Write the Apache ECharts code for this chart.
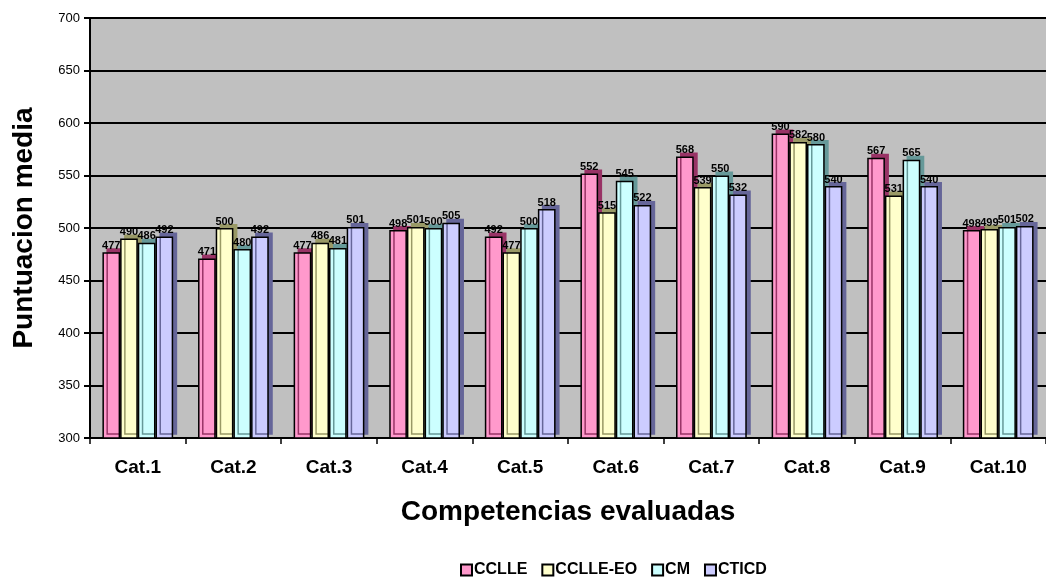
<!DOCTYPE html>
<html>
<head>
<meta charset="utf-8">
<title>Puntuacion media</title>
<script src="https://cdn.jsdelivr.net/npm/echarts@6/dist/echarts.min.js"></script>
<style>
  html, body { margin: 0; padding: 0; background: #fff; }
  #app { width: 1046px; height: 577px; }
</style>
</head>
<body>
<div id="app"></div>
<script>
// datos
var categories = ['Cat.1', 'Cat.2', 'Cat.3', 'Cat.4', 'Cat.5', 'Cat.6', 'Cat.7', 'Cat.8', 'Cat.9', 'Cat.10'];
var seriesNames = ['CCLLE', 'CCLLE-EO', 'CM', 'CTICD'];
var cclle   = [477, 471, 477, 498, 492, 552, 568, 590, 567, 498];
var cclleEo = [490, 500, 486, 501, 477, 515, 539, 582, 531, 499];
var cm      = [486, 480, 481, 500, 500, 545, 550, 580, 565, 501];
var cticd   = [492, 492, 501, 505, 518, 522, 532, 540, 540, 502];
var yTicks = { min: 300, max: 700, interval: 50 };

var colors = ['#ff99cc', '#ffffcc', '#ccffff', '#ccccff'];
var sideColors = ['#993366', '#999966', '#669999', '#666699'];
var allValues = [cclle, cclleEo, cm, cticd];
var font = 'Arial, "Liberation Sans", sans-serif';

var myEchart = echarts.init(document.getElementById('app'));

var series = allValues.map(function (vals, i) {
    return {
        name: seriesNames[i],
        type: 'bar',
        data: vals,
        barGap: '0%',
        barCategoryGap: '26%',
        itemStyle: {
            color: colors[i],
            borderColor: '#000',
            borderWidth: 1.5,
            shadowColor: sideColors[i],
            shadowOffsetX: 4,
            shadowOffsetY: -4,
            shadowBlur: 0
        },
        label: {
            show: true,
            position: 'top',
            distance: 1,
            color: '#000',
            fontFamily: font,
            fontWeight: 'bold',
            fontSize: 11
        }
    };
});

myEchart.setOption({
    animation: false,
    backgroundColor: '#fff',
    color: colors,
    legend: {
        data: seriesNames,
        top: 562,
        left: 460,
        padding: 0,
        icon: 'rect',
        itemWidth: 11,
        itemHeight: 11,
        itemGap: 14,
        itemStyle: { borderColor: '#000', borderWidth: 2 },
        textStyle: {
            fontFamily: font,
            fontWeight: 'bold',
            fontSize: 16,
            color: '#000',
            padding: [0, 0, 0, -3]
        }
    },
    grid: {
        left: 90,
        right: -4,
        top: 18,
        bottom: 139,
        show: true,
        backgroundColor: '#c0c0c0',
        borderWidth: 0
    },
    xAxis: {
        type: 'category',
        data: categories,
        name: 'Competencias evaluadas',
        nameLocation: 'middle',
        nameGap: 60,
        nameTextStyle: {
            fontFamily: font,
            fontWeight: 'bold',
            fontSize: 28,
            color: '#000'
        },
        axisLine: { lineStyle: { color: '#000', width: 2 } },
        axisTick: { show: true, length: 6, lineStyle: { color: '#000', width: 1.5 } },
        axisLabel: {
            margin: 20,
            color: '#000',
            fontFamily: font,
            fontWeight: 'bold',
            fontSize: 19
        }
    },
    yAxis: {
        type: 'value',
        min: yTicks.min,
        max: yTicks.max,
        interval: yTicks.interval,
        name: 'Puntuacion media',
        nameLocation: 'middle',
        nameGap: 52,
        nameTextStyle: {
            fontFamily: font,
            fontWeight: 'bold',
            fontSize: 28,
            color: '#000'
        },
        axisLine: { show: true, lineStyle: { color: '#000', width: 2 } },
        axisTick: { show: true, length: 6, lineStyle: { color: '#000', width: 2 } },
        axisLabel: {
            margin: 10,
            color: '#000',
            fontFamily: font,
            fontSize: 13
        },
        splitLine: { show: true, lineStyle: { color: '#000', width: 2 } }
    },
    series: series
});
</script>
</body>
</html>
